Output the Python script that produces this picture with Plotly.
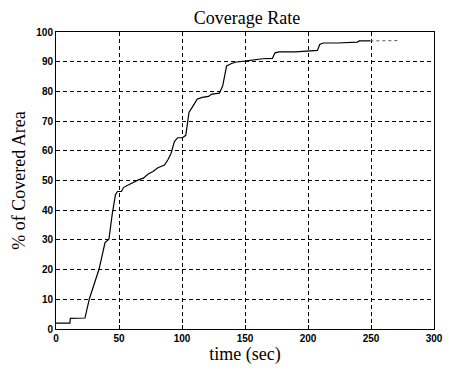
import plotly.graph_objects as go

# Coverage data
time_sec = [0, 11, 11.4, 23, 26.5, 31.6, 34.2, 38.9, 42, 44.6, 47.2, 48.8, 51.9, 53.7, 56.3,
            60.2, 65.4, 69.3, 73.2, 77, 80.9, 86.1, 88.7, 91.3, 93.9, 96.5, 100.4, 103,
            105.6, 108.2, 112, 116, 121, 123.7, 129.7, 132.3, 135.4, 139.3, 143.2, 149.7,
            156, 164, 171.7, 173.8, 177, 190, 207.5, 209.3, 212, 223.6, 239.2, 240.5, 249.5]
coverage = [2, 2, 3.6, 3.7, 10.2, 17.4, 20.2, 29.1, 30.2, 38.6, 45.2, 46.3, 46.3, 47.7, 48.3,
            49.1, 50.2, 50.8, 52.2, 53, 54.3, 55.2, 56.9, 59.1, 63, 64.4, 64.4, 65.2,
            73, 74.7, 77.4, 78, 78.3, 79.1, 79.4, 81.9, 88.6, 89.4, 89.9, 90.2,
            90.6, 91, 91.1, 93, 93.3, 93.3, 93.8, 95.8, 96.3, 96.3, 96.6, 97, 97]
tail_time = [249.5, 271.6]
tail_coverage = [97, 97.1]

x_ticks = [0, 50, 100, 150, 200, 250, 300]
y_ticks = [0, 10, 20, 30, 40, 50, 60, 70, 80, 90, 100]

fig = go.Figure()
fig.add_trace(go.Scatter(x=time_sec, y=coverage, mode="lines",
                         line=dict(color="black", width=1.2), showlegend=False))
fig.add_trace(go.Scatter(x=tail_time, y=tail_coverage, mode="lines",
                         line=dict(color="#555555", width=1, dash="dot"), showlegend=False))

axis_common = dict(showline=True, linecolor="black", linewidth=1, mirror=True,
                   showgrid=True, gridcolor="black", gridwidth=1.4, griddash="4px,3px",
                   zeroline=False, ticks="inside", ticklen=4, tickcolor="black",
                   tickfont=dict(family="Liberation Sans", size=10, color="black",
                                 weight="bold"))

fig.update_layout(
    width=455, height=371,
    margin=dict(l=56, r=14, t=32, b=39),
    paper_bgcolor="white", plot_bgcolor="white",
    title=dict(text="Coverage Rate", x=0.543, xanchor="center", y=0.953, yanchor="middle",
               font=dict(family="Liberation Serif", size=18, color="black")),
    xaxis=dict(range=[0, 300], tickvals=x_ticks, ticktext=[str(v) for v in x_ticks],
               title=dict(text="time (sec)", standoff=2,
                          font=dict(family="Liberation Serif", size=18, color="black")),
               **axis_common),
    yaxis=dict(range=[0, 100], tickvals=y_ticks, ticktext=[str(v) for v in y_ticks],
               title=dict(text="% of Covered Area", standoff=6,
                          font=dict(family="Liberation Serif", size=18, color="black")),
               **axis_common),
)

fig.write_html("out.html")
